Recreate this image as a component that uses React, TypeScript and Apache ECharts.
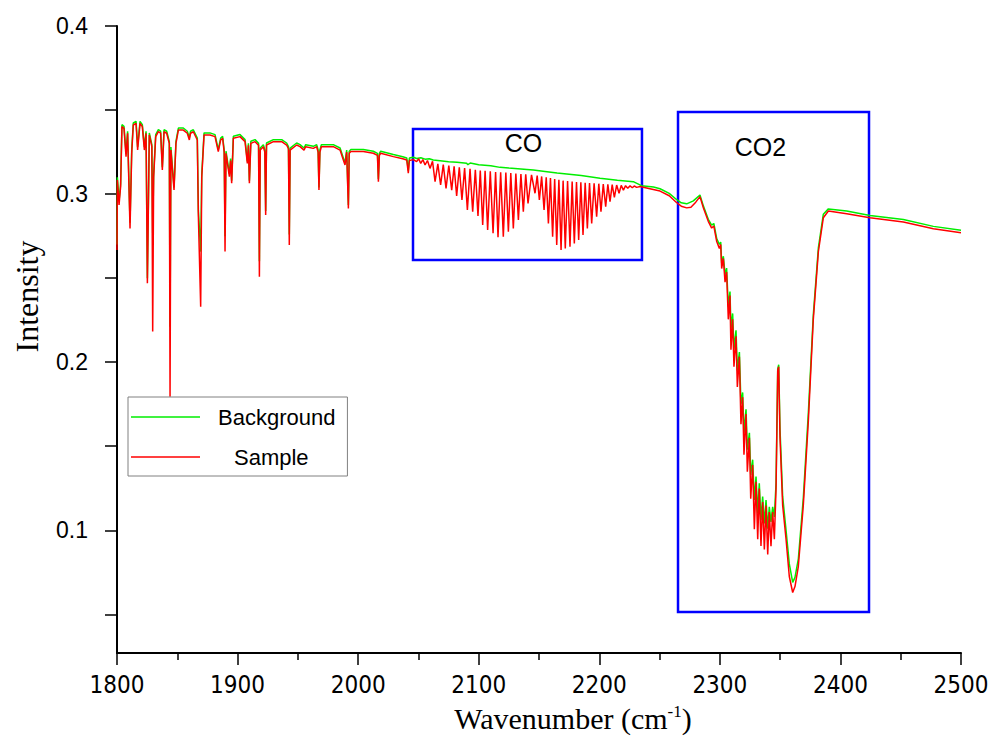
import React, { useEffect, useRef } from "react";
import * as echarts from "echarts";

// ---- Sample (red) spectrum: wavenumber (cm-1) and intensity ----
const sampleWavenumber = [
  1800.0, 1800.3, 1801.7, 1803.0, 1804.1, 1805.8, 1807.5, 1808.8, 1810.8, 1812.2,
  1813.5, 1815.8, 1817.1, 1819.1, 1821.0, 1822.7, 1824.1, 1825.2, 1826.8, 1828.9,
  1829.6, 1830.4, 1832.1, 1834.3, 1836.2, 1837.6, 1839.0, 1841.2, 1843.4, 1844.0,
  1844.7, 1847.3, 1848.9, 1850.9, 1855.0, 1858.3, 1860.0, 1861.0, 1863.3, 1866.6,
  1867.5, 1869.4, 1870.3, 1872.2, 1877.1, 1881.3, 1884.0, 1886.0, 1887.6, 1888.9,
  1889.6, 1890.4, 1893.2, 1894.2, 1895.1, 1896.5, 1902.0, 1906.2, 1908.1, 1909.0,
  1909.8, 1911.0, 1914.5, 1917.4, 1918.1, 1918.8, 1921.4, 1922.6, 1923.3, 1924.0,
  1929.7, 1936.6, 1940.7, 1942.2, 1942.9, 1943.6, 1949.0, 1951.8, 1955.1, 1956.5,
  1962.8, 1965.6, 1966.8, 1967.5, 1968.3, 1969.5, 1979.4, 1985.0, 1989.1, 1990.5,
  1991.9, 1992.6, 1994.0, 2004.3, 2012.6, 2016.0, 2016.8, 2017.6, 2018.7, 2029.2,
  2037.0, 2040.3, 2041.6, 2042.5,
  2045.8, 2048.5, 2050.2, 2051.9, 2053.7, 2055.5, 2057.5, 2059.6, 2061.7, 2063.8,
  2066.1, 2068.4, 2070.6, 2072.9, 2075.2, 2077.6, 2079.6, 2081.7, 2083.9, 2086.1,
  2088.3, 2090.6, 2092.8, 2095.0, 2097.2, 2099.4, 2101.3, 2103.3, 2105.3, 2107.4,
  2109.6, 2111.9, 2114.0, 2116.0, 2118.2, 2120.4, 2122.5, 2124.6, 2126.6, 2128.7,
  2130.8, 2132.9, 2135.0, 2137.0, 2139.0, 2140.9, 2143.8, 2146.7, 2148.5, 2150.3,
  2152.2, 2154.2, 2156.0, 2157.8, 2159.5, 2161.3, 2163.0, 2164.7, 2166.5, 2168.3,
  2170.0, 2171.8, 2173.7, 2175.7, 2177.5, 2179.3, 2181.1, 2182.9, 2184.7, 2186.5,
  2188.3, 2190.1, 2191.9, 2193.7, 2195.7, 2197.8, 2199.6, 2201.4, 2203.3, 2205.3,
  2207.1, 2208.9, 2210.7, 2212.5, 2214.4, 2216.4, 2218.2, 2220.0, 2221.8, 2223.6,
  2225.5, 2227.4, 2229.0, 2231.0, 2233.8, 2242.0, 2250.4, 2258.0, 2264.0, 2268.0,
  2272.5, 2276.0, 2280.0, 2283.5, 2286.3, 2290.4, 2293.2, 2295.0, 2297.4, 2299.6,
  2300.7, 2301.5, 2302.9, 2304.3, 2305.6, 2307.0, 2308.4, 2309.2, 2310.6, 2311.7,
  2313.4, 2314.5, 2316.2, 2317.5, 2318.9, 2320.0, 2321.7, 2322.8, 2324.5, 2325.6,
  2327.2, 2328.6, 2330.0, 2331.4, 2332.7, 2334.1, 2335.5, 2336.9, 2338.3, 2339.7,
  2341.0, 2342.4, 2343.8, 2345.2, 2346.6, 2348.0, 2348.8, 2349.9, 2352.1, 2354.9,
  2357.6, 2360.4, 2362.3, 2365.1, 2369.2, 2373.4, 2377.5, 2381.7, 2385.8, 2390.0,
  2405.2, 2424.5, 2452.2, 2477.1, 2500.0,
];
const sampleIntensity = [
  0.2667, 0.3084, 0.2935, 0.3044, 0.3401, 0.3391, 0.3223, 0.3362, 0.2796, 0.3243,
  0.3411, 0.3421, 0.3262, 0.3421, 0.3401, 0.3262, 0.3362, 0.2469, 0.3352, 0.3282,
  0.2182, 0.3100, 0.3342, 0.3371, 0.3362, 0.3143, 0.3371, 0.3362, 0.3300, 0.1795,
  0.3262, 0.3024, 0.3302, 0.3381, 0.3381, 0.3362, 0.3322, 0.3362, 0.3371, 0.3322,
  0.2866, 0.2330, 0.3100, 0.3352, 0.3352, 0.3342, 0.3253, 0.3322, 0.3332, 0.3250,
  0.2658, 0.3243, 0.3104, 0.3200, 0.3064, 0.3332, 0.3342, 0.3312, 0.3183, 0.3290,
  0.3064, 0.3302, 0.3312, 0.3290, 0.2509, 0.3262, 0.3282, 0.3250, 0.2876, 0.3292,
  0.3312, 0.3312, 0.3292, 0.3270, 0.2697, 0.3262, 0.3292, 0.3282, 0.3262, 0.3282,
  0.3272, 0.3282, 0.3250, 0.3024, 0.3250, 0.3282, 0.3282, 0.3262, 0.3173, 0.3250,
  0.2915, 0.3243, 0.3253, 0.3253, 0.3243, 0.3230, 0.3074, 0.3230, 0.3243, 0.3223,
  0.3210, 0.3203, 0.3124, 0.3200,
  0.3205, 0.3193, 0.3210, 0.3183, 0.3205, 0.3173, 0.3200, 0.3153, 0.3195, 0.3074,
  0.3180, 0.3054, 0.3175, 0.3034, 0.3170, 0.3024, 0.3165, 0.2989, 0.3160, 0.2965,
  0.3155, 0.2905, 0.3150, 0.2895, 0.3145, 0.2870, 0.3140, 0.2816, 0.3138, 0.2786,
  0.3135, 0.2767, 0.3132, 0.2743, 0.3130, 0.2747, 0.3128, 0.2776, 0.3125, 0.2796,
  0.3122, 0.2846, 0.3120, 0.2895, 0.3118, 0.2945, 0.3115, 0.3005, 0.3110, 0.2965,
  0.3105, 0.2905, 0.3100, 0.2826, 0.3095, 0.2747, 0.3090, 0.2697, 0.3085, 0.2667,
  0.3080, 0.2677, 0.3078, 0.2687, 0.3075, 0.2707, 0.3072, 0.2727, 0.3070, 0.2757,
  0.3068, 0.2796, 0.3066, 0.2826, 0.3064, 0.2866, 0.3062, 0.2895, 0.3060, 0.2925,
  0.3058, 0.2955, 0.3056, 0.2981, 0.3054, 0.3005, 0.3052, 0.3024, 0.3050, 0.3035,
  0.3049, 0.3038, 0.3048, 0.3040, 0.3045, 0.3032, 0.3018, 0.2990, 0.2950, 0.2928,
  0.2918, 0.2922, 0.2952, 0.2985, 0.2919, 0.2838, 0.2798, 0.2810, 0.2718, 0.2677,
  0.2700, 0.2557, 0.2617, 0.2476, 0.2537, 0.2255, 0.2396, 0.2074, 0.2255, 0.1973,
  0.2154, 0.1852, 0.2033, 0.1631, 0.1792, 0.1450, 0.1691, 0.1349, 0.1550, 0.1188,
  0.1389, 0.1007, 0.1289, 0.0947, 0.1249, 0.0906, 0.1168, 0.0886, 0.1148, 0.0856,
  0.1108, 0.0906, 0.1108, 0.0947, 0.1249, 0.1953, 0.1973, 0.1550, 0.1148, 0.0947,
  0.0725, 0.0630, 0.0665, 0.0786, 0.1148, 0.1651, 0.2255, 0.2657, 0.2859, 0.2899,
  0.2883, 0.2859, 0.2834, 0.2794, 0.2770,
];

// ---- Background (green) spectrum ----
const backgroundWavenumber = [
  1800.0, 1800.3, 1801.7, 1803.0, 1804.1, 1805.8, 1807.5, 1808.8, 1810.8, 1812.2,
  1813.5, 1815.8, 1817.1, 1819.1, 1821.0, 1822.7, 1824.1, 1825.2, 1826.8, 1828.9,
  1829.6, 1830.4, 1832.1, 1834.3, 1836.2, 1837.6, 1839.0, 1841.2, 1843.4, 1844.0,
  1844.7, 1847.3, 1848.9, 1850.9, 1855.0, 1858.3, 1860.0, 1861.0, 1863.3, 1866.6,
  1867.5, 1869.4, 1870.3, 1872.2, 1877.1, 1881.3, 1884.0, 1886.0, 1887.6, 1888.9,
  1889.6, 1890.4, 1893.2, 1894.2, 1895.1, 1896.5, 1902.0, 1906.2, 1908.1, 1909.0,
  1909.8, 1911.0, 1914.5, 1917.4, 1918.1, 1918.8, 1921.4, 1922.6, 1923.3, 1924.0,
  1929.7, 1936.6, 1940.7, 1942.2, 1942.9, 1943.6, 1949.0, 1951.8, 1955.1, 1956.5,
  1962.8, 1965.6, 1966.8, 1967.5, 1968.3, 1969.5, 1979.4, 1985.0, 1989.1, 1990.5,
  1991.9, 1992.6, 1994.0, 2004.3, 2012.6, 2016.0, 2016.8, 2017.6, 2018.7, 2029.2,
  2037.0, 2040.3, 2041.6, 2042.5,
  2045.8, 2048.5, 2052.0, 2055.5, 2059.0, 2062.3, 2068.0, 2075.0, 2082.0, 2090.0,
  2091.0, 2093.0, 2100.0, 2110.0, 2117.7, 2125.0, 2135.0, 2140.0, 2145.3, 2155.0,
  2165.0, 2173.0, 2185.0, 2200.6, 2215.0, 2228.2, 2235.0, 2245.0, 2250.4, 2258.0,
  2264.0, 2268.0, 2272.5, 2278.0, 2283.5,
  2286.3, 2290.4, 2293.2, 2295.0, 2297.4, 2299.6, 2300.7, 2301.5, 2302.9, 2304.3,
  2305.6, 2307.0, 2308.4, 2309.2, 2310.6, 2311.7, 2313.4, 2314.5, 2316.2, 2317.5,
  2318.9, 2320.0, 2321.7, 2322.8, 2324.5, 2325.6, 2327.2, 2328.6, 2330.0, 2331.4,
  2332.7, 2334.1, 2335.5, 2336.9, 2338.3, 2339.7, 2341.0, 2342.4, 2343.8, 2345.2,
  2346.6, 2348.0, 2348.8, 2349.9, 2352.1, 2354.9, 2357.6, 2360.4, 2362.3, 2365.1,
  2369.2, 2373.4, 2377.5, 2381.7, 2385.8, 2390.0, 2405.2, 2424.5, 2452.2, 2477.1,
  2500.0,
];
const backgroundIntensity = [
  0.2700, 0.3100, 0.2960, 0.3060, 0.3413, 0.3403, 0.3240, 0.3374, 0.2830, 0.3260,
  0.3423, 0.3433, 0.3280, 0.3433, 0.3413, 0.3280, 0.3374, 0.2500, 0.3364, 0.3294,
  0.2767, 0.3120, 0.3354, 0.3383, 0.3374, 0.3160, 0.3383, 0.3374, 0.3312, 0.2211,
  0.3280, 0.3040, 0.3314, 0.3393, 0.3393, 0.3374, 0.3334, 0.3374, 0.3383, 0.3334,
  0.2900, 0.2658, 0.3120, 0.3364, 0.3364, 0.3354, 0.3265, 0.3334, 0.3344, 0.3262,
  0.2750, 0.3255, 0.3120, 0.3212, 0.3080, 0.3344, 0.3354, 0.3324, 0.3195, 0.3302,
  0.3080, 0.3314, 0.3324, 0.3302, 0.2600, 0.3274, 0.3294, 0.3262, 0.2900, 0.3304,
  0.3324, 0.3324, 0.3304, 0.3282, 0.2760, 0.3274, 0.3304, 0.3294, 0.3274, 0.3294,
  0.3284, 0.3294, 0.3262, 0.3040, 0.3262, 0.3294, 0.3294, 0.3274, 0.3185, 0.3262,
  0.2935, 0.3255, 0.3265, 0.3265, 0.3255, 0.3242, 0.3090, 0.3242, 0.3255, 0.3235,
  0.3222, 0.3215, 0.3140, 0.3215,
  0.3219, 0.3212, 0.3216, 0.3208, 0.3210, 0.3203, 0.3199, 0.3193, 0.3190, 0.3183,
  0.3175, 0.3185, 0.3175, 0.3168, 0.3159, 0.3155, 0.3150, 0.3147, 0.3143, 0.3135,
  0.3126, 0.3120, 0.3110, 0.3094, 0.3083, 0.3074, 0.3050, 0.3042, 0.3032, 0.3004,
  0.2968, 0.2948, 0.2942, 0.2960, 0.2995,
  0.2930, 0.2850, 0.2815, 0.2825, 0.2735, 0.2700, 0.2715, 0.2590, 0.2630, 0.2520,
  0.2560, 0.2330, 0.2420, 0.2200, 0.2290, 0.2080, 0.2190, 0.1950, 0.2060, 0.1750,
  0.1820, 0.1580, 0.1720, 0.1480, 0.1580, 0.1330, 0.1420, 0.1180, 0.1320, 0.1100,
  0.1280, 0.1060, 0.1200, 0.1040, 0.1180, 0.1010, 0.1140, 0.1050, 0.1140, 0.1080,
  0.1280, 0.1960, 0.1985, 0.1600, 0.1200, 0.1000, 0.0800, 0.0690, 0.0720, 0.0830,
  0.1190, 0.1700, 0.2280, 0.2680, 0.2880, 0.2912, 0.2899, 0.2873, 0.2849, 0.2808,
  0.2785,
];

// ---- Annotation boxes [xFrom, xTo, yFrom, yTo] ----
const coBox = [2045.5, 2235.4, 0.2608, 0.3387];
const co2Box = [2265.3, 2423.7, 0.0514, 0.3488];

const yLabelValues = [0.1, 0.2, 0.3, 0.4];
const yTickValues = [0.05, 0.1, 0.15, 0.2, 0.25, 0.3, 0.35, 0.4];

const SANS = '"Liberation Sans", Arial, sans-serif';
const NARROW = '"Liberation Sans Narrow", "Arial Narrow", "DejaVu Sans Condensed", sans-serif';
const SERIF = '"Liberation Serif", "Times New Roman", serif';

export default function App() {
  const ref = useRef<HTMLDivElement>(null);

  useEffect(() => {
    if (!ref.current) return;
    const chart = echarts.init(ref.current, undefined, { renderer: "svg" });
    const sampleData = sampleWavenumber.map((w, i) => [w, sampleIntensity[i]]);
    const backgroundData = backgroundWavenumber.map((w, i) => [w, backgroundIntensity[i]]);

    chart.setOption({
      animation: false,
      backgroundColor: "#ffffff",
      grid: { left: 117, right: 31, top: 26, bottom: 87, containLabel: false },
      legend: {
        data: ["Background", "Sample"],
        orient: "vertical",
        left: 128,
        top: 397,
        icon: "rect",
        itemWidth: 69,
        itemHeight: 1.5,
        itemGap: 18,
        padding: [9, 12, 8, 3],
        borderColor: "#808080",
        borderWidth: 1,
        backgroundColor: "#ffffff",
        selectedMode: false,
        formatter: (name: string) => (name === "Sample" ? `{s|${name}}` : `{b|${name}}`),
        textStyle: {
          fontFamily: SANS,
          fontSize: 22,
          color: "#000",
          rich: {
            b: { fontFamily: SANS, fontSize: 22, color: "#000", padding: [0, 0, 0, 13] },
            s: { fontFamily: SANS, fontSize: 22, color: "#000", padding: [0, 0, 0, 29] },
          },
        },
      },
      xAxis: {
        type: "value",
        min: 1800,
        max: 2500,
        interval: 100,
        name: "Wavenumber (cm{sup|-1})",
        nameLocation: "middle",
        nameGap: 50,
        nameTextStyle: {
          fontFamily: SERIF,
          fontSize: 30,
          color: "#000",
          padding: [0, 0, 0, 68],
          rich: {
            sup: { fontFamily: SERIF, fontSize: 17, color: "#000", padding: [0, 0, 14, 0] },
          },
        },
        axisLine: { onZero: false, lineStyle: { color: "#000", width: 2 } },
        axisTick: { show: true, inside: false, length: 12, lineStyle: { color: "#000", width: 1.5 } },
        minorTick: { show: true, splitNumber: 2, length: 7, lineStyle: { color: "#000", width: 1.5 } },
        axisLabel: {
          fontFamily: NARROW,
          fontSize: 24,
          color: "#000",
          margin: 20,
          formatter: (v: number) => String(v),
        },
        splitLine: { show: false },
      },
      yAxis: {
        type: "value",
        min: 0.027,
        max: 0.4,
        name: "Intensity",
        nameLocation: "middle",
        nameGap: 74,
        nameTextStyle: {
          fontFamily: SERIF,
          fontSize: 32,
          color: "#000",
          padding: [0, 0, 0, 86],
        },
        axisLine: { onZero: false, lineStyle: { color: "#000", width: 2 } },
        axisTick: {
          show: true,
          inside: false,
          length: 12,
          customValues: yTickValues,
          lineStyle: { color: "#000", width: 1.5 },
        },
        axisLabel: {
          fontFamily: SANS,
          fontSize: 23,
          color: "#000",
          margin: 29,
          customValues: yLabelValues,
          formatter: (v: number) => v.toFixed(1),
        },
        splitLine: { show: false },
      },
      series: [
        {
          name: "Background",
          type: "line",
          data: backgroundData,
          symbol: "none",
          showSymbol: false,
          lineStyle: { color: "#00ee00", width: 1.5 },
          itemStyle: { color: "#00ee00" },
          z: 2,
        },
        {
          name: "Sample",
          type: "line",
          data: sampleData,
          symbol: "none",
          showSymbol: false,
          lineStyle: { color: "#ff0000", width: 1.5 },
          itemStyle: { color: "#ff0000" },
          z: 3,
        },
        {
          name: "boxes",
          type: "line",
          data: [],
          symbol: "none",
          z: 5,
          markArea: {
            silent: true,
            itemStyle: { color: "rgba(0,0,0,0)", borderColor: "#0000ff", borderWidth: 2.5 },
            label: {
              show: true,
              position: "insideTop",
              fontFamily: SANS,
              fontSize: 25,
              color: "#000",
            },
            data: [
              [
                { name: "CO", coord: [coBox[0], coBox[3]], label: { distance: 3, offset: [-4, 0] } },
                { coord: [coBox[1], coBox[2]] },
              ],
              [
                { name: "CO2", coord: [co2Box[0], co2Box[3]], label: { distance: 24, offset: [-13, 0] } },
                { coord: [co2Box[1], co2Box[2]] },
              ],
            ],
          },
        },
      ],
    });

    return () => chart.dispose();
  }, []);

  return (
    <div
      ref={ref}
      style={{ position: "absolute", left: 0, top: 0, width: 992, height: 740, background: "#fff" }}
    />
  );
}
